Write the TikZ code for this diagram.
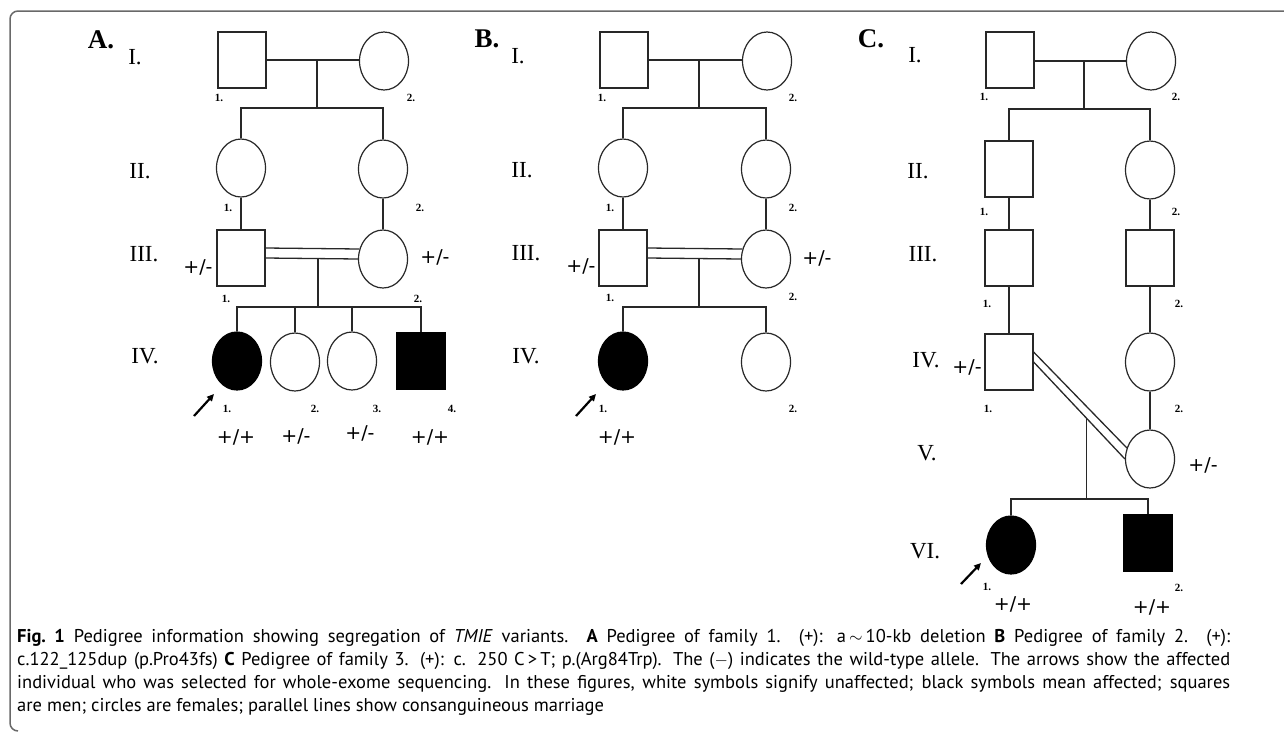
\documentclass[tikz,border=0pt]{standalone}
\usepackage{fontspec}
\setmainfont{Liberation Serif}
\newfontfamily\capfont{PT Sans}
\newfontfamily\gtfont{DejaVu Sans}
\usetikzlibrary{shapes.geometric,arrows.meta,calc}
\definecolor{linec}{RGB}{40,40,40}
\definecolor{framec}{RGB}{105,105,105}
\begin{document}
\begin{tikzpicture}[x=1pt,y=-1pt,
  male/.style={draw=linec,line width=1.2pt,rectangle,minimum width=48pt,minimum height=56pt,inner sep=0pt,fill=white},
  female/.style={draw=linec,line width=1.2pt,ellipse,minimum width=49pt,minimum height=58pt,inner sep=0pt,fill=white},
  aff/.style={fill=black,draw=black},
  link/.style={draw=linec,line width=1.3pt},
  gen/.style={font=\fontsize{23}{23}\selectfont,inner sep=0pt},
  panel/.style={font=\fontsize{27}{27}\selectfont\bfseries,inner sep=0pt},
  num/.style={font=\fontsize{11}{11}\selectfont\bfseries,inner sep=0pt},
  geno/.style={font=\gtfont\fontsize{19}{19}\selectfont,inner sep=0pt},
  proband/.style={draw=black,line width=2.2pt,-{Triangle[length=7pt,width=6.5pt]}},
  capline/.style={font=\capfont\fontsize{18.5}{23}\selectfont,inner sep=0pt,anchor=base west},
  frameline/.style={draw=framec,line width=1.5pt,rounded corners=8pt}
]
\useasboundingbox (0,0) rectangle (1284,734);
\path[frameline] (18,731) -- (10,731) -- (10,11) -- (1290,11);

% ================= Panel A =================
\node[panel] (Alab) at (101,40) {A.};
\node[gen] (AgI) at (135,57) {I.};
\node[gen] (AgII) at (140,171) {II.};
\node[gen] (AgIII) at (144,254) {III.};
\node[gen] (AgIV) at (145,356) {IV.};

\node[male] (A11) at (242,60) {};
\node[female] (A12) at (384,61) {};
\node[female] (A21) at (241,168) {};
\node[female] (A22) at (383,169) {};
\node[male] (A31) at (241,258) {};
\node[female] (A32) at (383,259) {};
\node[female,aff] (A41) at (237,361) {};
\node[female] (A42) at (295,362) {};
\node[female] (A43) at (352,361) {};
\node[male,aff] (A44) at (421,361) {};

\coordinate (Am1) at (317,60);
\coordinate (As1) at (317,108);
\coordinate (Am2) at (318,258);
\coordinate (As2) at (318,307);
\draw[link] (A11.east) -- (A11.east -| A12.west);
\draw[link] (Am1) -- (As1);
\draw[link] (A21.north) -- (A21.north |- As1) -- (A22.north |- As1) -- (A22.north);
\draw[link] (A21.south) -- (A31.north);
\draw[link] (A22.south) -- (A32.north);
\draw[link] ($(A31.east)+(0,-10)$) -- ($(A32.west)+(1.5,-10)$);
\draw[link] (A31.east) -- (A32.west);
\draw[link] (Am2) -- (As2);
\draw[link] (A41.north) -- (A41.north |- As2) -- (A44.north |- As2) -- (A44.north);
\draw[link] (A42.north) -- (A42.north |- As2);
\draw[link] (A43.north) -- (A43.north |- As2);

\node[num] (An11) at (219,98) {1.};
\node[num] (An12) at (411,98) {2.};
\node[num] (An21) at (228,208) {1.};
\node[num] (An22) at (420,208) {2.};
\node[num] (An31) at (226,299) {1.};
\node[num] (An32) at (418,299) {2.};
\node[num] (An41) at (227,409) {1.};
\node[num] (An42) at (315,409) {2.};
\node[num] (An43) at (377,409) {3.};
\node[num] (An44) at (452,409) {4.};

\node[geno] (Ag31) at (198,267) {+/-};
\node[geno] (Ag32) at (435,257) {+/-};
\node[geno] (Ag41) at (236,437) {+/+};
\node[geno] (Ag42) at (296,436) {+/-};
\node[geno] (Ag43) at (360,433) {+/-};
\node[geno] (Ag44) at (430,437) {+/+};

\coordinate (Aat) at (194,416);
\coordinate (Aah) at (214,394);
\draw[proband] (Aat) -- (Aah);

% ================= Panel B =================
\node[panel] (Blab) at (487,39) {B.};
\node[gen] (BgI) at (518,56) {I.};
\node[gen] (BgII) at (522,170) {II.};
\node[gen] (BgIII) at (526,253) {III.};
\node[gen] (BgIV) at (526,356) {IV.};

\node[male] (B11) at (624,60) {};
\node[female] (B12) at (767,61) {};
\node[female] (B21) at (623,168) {};
\node[female] (B22) at (766,169) {};
\node[male] (B31) at (623,258) {};
\node[female] (B32) at (766,259) {};
\node[female,aff] (B41) at (623,361) {};
\node[female] (B42) at (766,362) {};

\coordinate (Bm1) at (699,60);
\coordinate (Bs1) at (699,108);
\coordinate (Bm2) at (699,258);
\coordinate (Bs2) at (699,307);
\draw[link] (B11.east) -- (B11.east -| B12.west);
\draw[link] (Bm1) -- (Bs1);
\draw[link] (B21.north) -- (B21.north |- Bs1) -- (B22.north |- Bs1) -- (B22.north);
\draw[link] (B21.south) -- (B31.north);
\draw[link] (B22.south) -- (B32.north);
\draw[link] ($(B31.east)+(0,-10)$) -- ($(B32.west)+(1.5,-10)$);
\draw[link] (B31.east) -- (B32.west);
\draw[link] (Bm2) -- (Bs2);
\draw[link] (B41.north) -- (B41.north |- Bs2) -- (B42.north |- Bs2) -- (B42.north);

\node[num] (Bn11) at (602,98) {1.};
\node[num] (Bn12) at (793,98) {2.};
\node[num] (Bn21) at (610,208) {1.};
\node[num] (Bn22) at (793,208) {2.};
\node[num] (Bn31) at (610,298) {1.};
\node[num] (Bn32) at (793,297) {2.};
\node[num] (Bn41) at (603,409) {1.};
\node[num] (Bn42) at (793,409) {2.};

\node[geno] (Bg31) at (581,266) {+/-};
\node[geno] (Bg32) at (817,258) {+/-};
\node[geno] (Bg41) at (617,437) {+/+};

\coordinate (Bat) at (576,416);
\coordinate (Bah) at (596,394);
\draw[proband] (Bat) -- (Bah);

% ================= Panel C =================
\node[panel] (Clab) at (871,39) {C.};
\node[gen] (CgI) at (915,55) {I.};
\node[gen] (CgII) at (918,171) {II.};
\node[gen] (CgIII) at (923,254) {III.};
\node[gen] (CgIV) at (926,360) {IV.};
\node[gen] (CgV) at (927,453) {V.};
\node[gen] (CgVI) at (925,551) {VI.};

\node[male] (C11) at (1010,60) {};
\node[female] (C12) at (1151,61) {};
\node[male] (C21) at (1009,169) {};
\node[female] (C22) at (1150,170) {};
\node[male] (C31) at (1009,258) {};
\node[male] (C32) at (1150,258) {};
\node[male] (C41) at (1009,362) {};
\node[female] (C42) at (1150,362) {};
\node[female] (C5) at (1150,459) {};
\node[female,aff] (C61) at (1011,545) {};
\node[male,aff] (C62) at (1148,543) {};

\coordinate (Cm1) at (1084,61);
\coordinate (Cs1) at (1084,109);
\coordinate (Cm2) at ($(C41.east)!0.577!(C5.west)$);
\coordinate (Cs2) at (Cm2 |- 0,499);
\draw[link] (C11.east |- C12.west) -- (C12.west);
\draw[link] (Cm1) -- (Cs1);
\draw[link] (C21.north) -- (C21.north |- Cs1) -- (C22.north |- Cs1) -- (C22.north);
\draw[link] (C21.south) -- (C31.north);
\draw[link] (C31.south) -- (C41.north);
\draw[link] (C22.south) -- (C32.north);
\draw[link] (C32.south) -- (C42.north);
\draw[link] (C42.south) -- (C5.north);
\draw[link] ($(C41.east)+(0,-10)$) -- ($(C5.west)+(2,-11)$);
\draw[link] (C41.east) -- (C5.west);
\draw[link] (Cm2) -- (Cs2);
\draw[link] (C61.north) -- (C61.north |- Cs2) -- (C62.north |- Cs2) -- (C62.north);

\node[num] (Cn11) at (984,97) {1.};
\node[num] (Cn12) at (1176,97) {2.};
\node[num] (Cn21) at (984,212) {1.};
\node[num] (Cn22) at (1176,212) {2.};
\node[num] (Cn31) at (987,304) {1.};
\node[num] (Cn32) at (1179,304) {2.};
\node[num] (Cn41) at (988,409) {1.};
\node[num] (Cn42) at (1179,409) {2.};
\node[num] (Cn61) at (987,587) {1.};
\node[num] (Cn62) at (1179,588) {2.};

\node[geno] (Cg41) at (967,367) {+/-};
\node[geno] (Cg5) at (1203,465) {+/-};
\node[geno] (Cg61) at (1013,604) {+/+};
\node[geno] (Cg62) at (1152,607) {+/+};

\coordinate (Cat) at (961,584);
\coordinate (Cah) at (981,563);
\draw[proband] (Cat) -- (Cah);

% ================= Caption =================
\node[capline] (cap1) at (17,642) {\makebox[1213pt][s]{\bfseries Fig.\ 1\hspace{9pt}\mdseries Pedigree information showing segregation of \textit{TMIE} variants. \textbf{A} Pedigree of family 1. (+): a\,$\sim$\,10-kb deletion \textbf{B} Pedigree of family 2. (+):}};
\node[capline] (cap2) at (17,665) {\makebox[1213pt][s]{c.122\_125dup (p.Pro43fs) \textbf{C} Pedigree of family 3. (+): c. 250 C\,>\,T; p.(Arg84Trp). The ($-$) indicates the wild-type allele. The arrows show the affected}};
\node[capline] (cap3) at (17,688) {\makebox[1213pt][s]{individual who was selected for whole-exome sequencing. In these figures, white symbols signify unaffected; black symbols mean affected; squares}};
\node[capline] (cap4) at (17,711) {are men; circles are females; parallel lines show consanguineous marriage};
\end{tikzpicture}
\end{document}
